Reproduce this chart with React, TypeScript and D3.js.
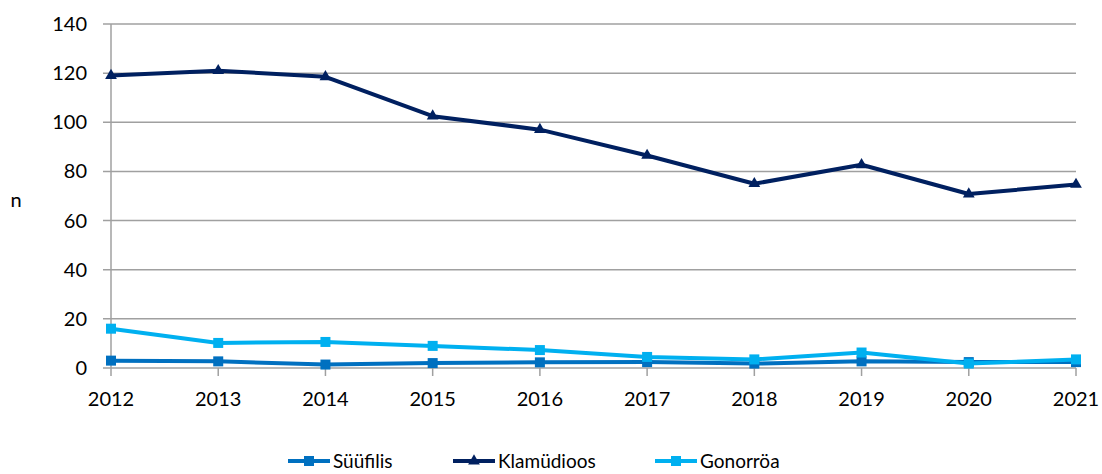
import * as d3 from 'd3';

const years = ['2012', '2013', '2014', '2015', '2016', '2017', '2018', '2019', '2020', '2021'];
const syyfilis = [3, 2.7, 1.4, 2, 2.3, 2.4, 1.8, 2.7, 2.4, 2.4];
const klamydioos = [119, 121, 118.5, 102.5, 97, 86.5, 75, 82.7, 70.8, 74.7];
const gonorroa = [16, 10.2, 10.6, 9, 7.3, 4.5, 3.5, 6.3, 1.8, 3.5];
const yTicks = [0, 20, 40, 60, 80, 100, 120, 140];

const series = [
  { name: 'Süüfilis', values: syyfilis, color: '#0070C0', marker: 'square' },
  { name: 'Klamüdioos', values: klamydioos, color: '#002060', marker: 'triangle' },
  { name: 'Gonorröa', values: gonorroa, color: '#00B0F0', marker: 'square' },
];
// navy first, then dark blue, light blue on top
const drawOrder = [1, 0, 2];

const W = 1102;
const H = 474;
const font = 'Lato, "Open Sans", sans-serif';

const App = () => {
  const x = d3.scalePoint<string>().domain(years).range([111, 1076]);
  const y = d3.scaleLinear().domain([0, 140]).range([368, 24]);
  const line = d3.line<number>()
    .x((_, i) => x(years[i]) as number)
    .y(d => y(d));
  const tri = d3.symbol().type(d3.symbolTriangle).size(60)();

  const marker = (kind: string, color: string, cx: number, cy: number, key: string) =>
    kind === 'square'
      ? <rect key={key} x={cx - 5} y={cy - 5} width={10} height={10} fill={color} />
      : <path key={key} d={tri as string} transform={`translate(${cx},${cy})`} fill={color} />;

  const legendPos = [288, 453, 655];
  const ly = 461;

  return (
    <svg width={W} height={H} style={{ position: 'absolute', left: 0, top: 0, background: '#fff' }}>
      {yTicks.map(t => (
        <line key={t} x1={103} x2={1076} y1={y(t)} y2={y(t)} stroke="#A0A0A0" strokeWidth={1.5} />
      ))}
      <line x1={111} x2={111} y1={24} y2={368} stroke="#A0A0A0" strokeWidth={1.5} />
      {years.map(yr => (
        <line key={yr} x1={x(yr)} x2={x(yr)} y1={368} y2={376} stroke="#A0A0A0" strokeWidth={1.5} />
      ))}
      {yTicks.map(t => (
        <text key={t} x={87} y={y(t)} dy="0.35em" textAnchor="end" fontFamily={font} fontSize={20} fill="#000">{t}</text>
      ))}
      {years.map(yr => (
        <text key={yr} x={x(yr)} y={406} textAnchor="middle" fontFamily={font} fontSize={20} fill="#000">{yr}</text>
      ))}
      <text x={16} y={200} dy="0.35em" textAnchor="middle" fontFamily={font} fontSize={20}>n</text>

      {drawOrder.map(si => {
        const s = series[si];
        return (
          <g key={s.name}>
            <path d={line(s.values) as string} fill="none" stroke={s.color} strokeWidth={4} strokeLinejoin="round" />
            {s.values.map((v, i) => marker(s.marker, s.color, x(years[i]) as number, y(v), `${s.name}${i}`))}
          </g>
        );
      })}

      {series.map((s, i) => {
        const lx = legendPos[i];
        return (
          <g key={s.name}>
            <line x1={lx} x2={lx + 42} y1={ly} y2={ly} stroke={s.color} strokeWidth={4} />
            {marker(s.marker, s.color, lx + 21, ly, `lg${i}`)}
            <text x={lx + 45} y={ly} dy="0.35em" fontFamily={font} fontSize={19}>{s.name}</text>
          </g>
        );
      })}
    </svg>
  );
};

export default App;
